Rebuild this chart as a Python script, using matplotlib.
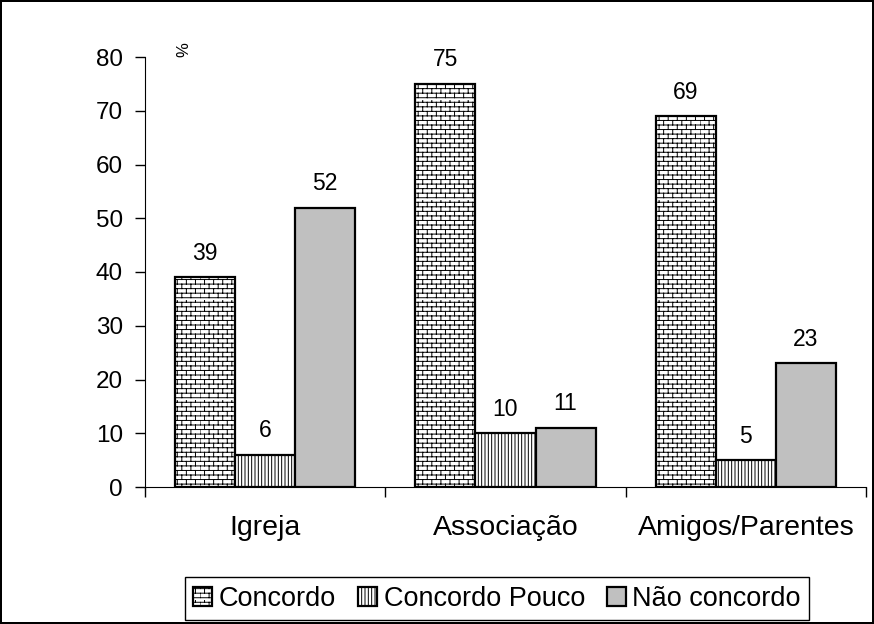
import numpy as np
import matplotlib
matplotlib.use("Agg")
import matplotlib.pyplot as plt
import matplotlib.hatch as mhatch
from matplotlib.path import Path
import warnings

# data
grupos = ["Igreja", "Associação", "Amigos/Parentes"]
concordo = [39, 75, 69]
concordo_pouco = [6, 10, 5]
nao_concordo = [52, 11, 23]
series = ["Concordo", "Concordo Pouco", "Não concordo"]


# brick hatch ('b'), not part of the stock hatch set
class Bricks(mhatch.HatchPatternBase):
    def __init__(self, hatch, density):
        n = hatch.count('b')
        self.rows = 22 * n
        self.cols = 11 * n
        self.num_vertices = 2 * self.rows + 2 * self.rows * self.cols

    def set_vertices_and_codes(self, vertices, codes):
        k = 0
        h = 1.0 / self.rows
        for i in range(self.rows):
            y = (i + 0.5) * h
            vertices[k] = (0.0, y); codes[k] = Path.MOVETO; k += 1
            vertices[k] = (1.0, y); codes[k] = Path.LINETO; k += 1
            off = 0.5 * (i % 2)
            for j in range(self.cols):
                x = (j + off) / self.cols
                vertices[k] = (x, y); codes[k] = Path.MOVETO; k += 1
                vertices[k] = (x, y + h); codes[k] = Path.LINETO; k += 1


mhatch._hatch_types.append(Bricks)
warnings.filterwarnings("ignore")

plt.rcParams['font.family'] = ['Liberation Sans', 'DejaVu Sans']
plt.rcParams['hatch.linewidth'] = 0.7

fig = plt.figure(figsize=(8.74, 6.24), dpi=100)
fig.patch.set_edgecolor("black")
fig.patch.set_linewidth(1.5)
ax = fig.add_axes([145/874, 137/624, 721/874, 430/624])

x = np.arange(len(grupos))
w = 0.25
estilos = [dict(color="white", hatch="b"),
           dict(color="white", hatch="|||||"),
           dict(color="#c0c0c0", hatch=None)]
for i, (vals, nome, st) in enumerate(zip([concordo, concordo_pouco, nao_concordo], series, estilos)):
    bars = ax.bar(x + (i - 1) * w, vals, w, color=st["color"], hatch=st["hatch"],
                  edgecolor="black", linewidth=1.6, label=nome)
    for b, v in zip(bars, vals):
        ax.annotate(str(v), (b.get_x() + b.get_width() / 2, v), xytext=(0, 9),
                    textcoords="offset points", ha="center", va="bottom", fontsize=16.5)

ax.set_xlim(-0.5, 2.5)
ax.set_ylim(0, 80)
ax.set_yticks(range(0, 81, 10))
ax.tick_params(axis="y", labelsize=17.5, length=7, width=1, direction="out", pad=9)
ax.set_xticks([-0.5, 0.5, 1.5, 2.5])
ax.set_xticklabels([])
ax.set_xticks(x, minor=True)
ax.set_xticklabels(grupos, minor=True)
ax.tick_params(axis="x", which="major", length=7, width=1, direction="out")
ax.tick_params(axis="x", which="minor", length=0, labelsize=20.5, pad=20)
for s in ["top", "right"]:
    ax.spines[s].set_visible(False)

ax.text(-0.34, 80, "%", rotation=90, fontsize=12, ha="center", va="bottom")

leg = fig.legend(loc="center", bbox_to_anchor=(497/874, 1 - 598.5/624), ncol=3,
                 fontsize=19.5, handlelength=0.7, handleheight=0.7, handletextpad=0.25,
                 columnspacing=0.8, borderpad=0.3, fancybox=False, edgecolor="black",
                 framealpha=1)
leg.get_frame().set_linewidth(1)

fig.savefig("out.png", dpi=100)
